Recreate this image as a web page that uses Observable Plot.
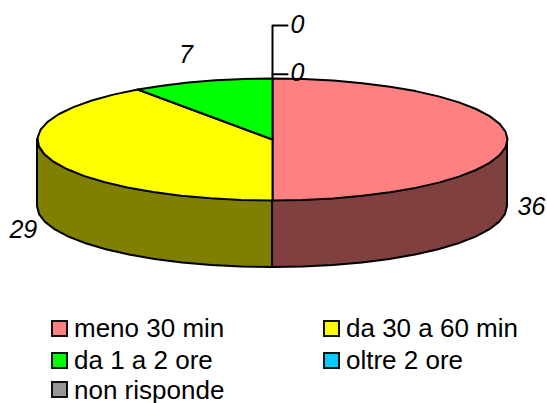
<!DOCTYPE html>
<html>
<head>
<meta charset="utf-8">
<script src="https://cdn.jsdelivr.net/npm/d3@7"></script>
<script src="https://cdn.jsdelivr.net/npm/@observablehq/plot@0.6"></script>
<style>
html,body{margin:0;padding:0;background:#fff;}
#chart svg{display:block;}
#legend{position:absolute;left:51px;top:312px;display:grid;grid-template-columns:272px 200px;grid-template-rows:32px 32px 27px;font:26px/26px "Liberation Sans",Arial,sans-serif;color:#000;}
#legend div{display:flex;align-items:center;white-space:nowrap;}
#legend i{display:block;box-sizing:border-box;width:17px;height:17px;border:2px solid #111;margin-right:6px;}
</style>
</head>
<body>
<div id="chart"></div>
<div id="legend"></div>
<script>
const categories = ["meno 30 min", "da 30 a 60 min", "da 1 a 2 ore", "oltre 2 ore", "non risponde"];
const values = [36, 29, 7, 0, 0];
const topColors = ["#FF8080", "#FFFF00", "#00FF00", "#00CCFF", "#969696"];
const sideColors = ["#804040", "#808000", "#008000", "#006680", "#4B4B4B"];
const depth = 1.1;
const stepDeg = 7.5;

const total = d3.sum(values);
let acc = 0;
const slices = values.map((v, i) => {
  const s = { i, value: v, a0: acc / total * 2 * Math.PI };
  acc += v;
  s.a1 = acc / total * 2 * Math.PI;
  s.mid = (s.a0 + s.a1) / 2;
  return s;
});
const pt = a => ({ x: Math.sin(a), y: Math.cos(a) });
function arc(a0, a1) {
  const step = stepDeg * Math.PI / 180;
  const n = Math.max(1, Math.round((a1 - a0) / step));
  return d3.range(n + 1).map(k => pt(a0 + (a1 - a0) * k / n));
}
const tops = slices.filter(s => s.value > 0).map(s => ({
  fill: topColors[s.i],
  pts: [{ x: 0, y: 0 }, ...arc(s.a0, s.a1), { x: 0, y: 0 }]
}));
const sides = slices.filter(s => s.value > 0).map(s => {
  const a0 = Math.max(s.a0, Math.PI / 2), a1 = Math.min(s.a1, 3 * Math.PI / 2);
  if (a1 <= a0) return null;
  return { fill: sideColors[s.i], pts: arc(a0, a1).map(p => ({ x: p.x, y1: p.y, y2: p.y - depth })) };
}).filter(Boolean);

const font = "Liberation Sans, Arial, sans-serif";
const labelMark = (s, extraY, dx, dy) => Plot.text([s], {
  x: d => pt(d.mid).x,
  y: d => pt(d.mid).y + extraY,
  text: d => String(d.value),
  dx, dy,
  fontSize: 25, fontStyle: "italic", fontFamily: font, fill: "#000"
});

const chart = Plot.plot({
  width: 547, height: 310,
  margin: 0,
  style: { background: "#fff", overflow: "visible" },
  x: { domain: [-1, 1], range: [37, 507], axis: null },
  y: { domain: [-1, 1], range: [200, 78], axis: null },
  marks: [
    Plot.line([{ x: 0, y: 1 }, { x: 0, y: 1.87 }, { x: 0.064, y: 1.87 }], { x: "x", y: "y", stroke: "#000", strokeWidth: 2 }),
    Plot.line([{ x: 0, y: 1.07 }, { x: 0.064, y: 1.07 }], { x: "x", y: "y", stroke: "#000", strokeWidth: 2 }),
    ...sides.map(s => Plot.areaY(s.pts, { x: "x", y1: "y1", y2: "y2", fill: s.fill, stroke: "#000", strokeWidth: 2, strokeLinejoin: "round" })),
    ...tops.map(t => Plot.line(t.pts, { x: "x", y: "y", fill: t.fill, stroke: "#000", strokeWidth: 2, strokeLinejoin: "round" })),
    labelMark(slices[0], -depth, 24, 0),
    labelMark(slices[1], -depth, -25, 5),
    labelMark(slices[2], 0, -16, -26),
    labelMark(slices[3], 0.87, 25, 0),
    labelMark(slices[4], 0.09, 25, 0)
  ]
});
document.getElementById("chart").appendChild(chart);

const legend = document.getElementById("legend");
categories.forEach((c, i) => {
  const d = document.createElement("div");
  const sw = document.createElement("i");
  sw.style.background = topColors[i];
  d.appendChild(sw);
  d.appendChild(document.createTextNode(c));
  legend.appendChild(d);
});
</script>
</body>
</html>
